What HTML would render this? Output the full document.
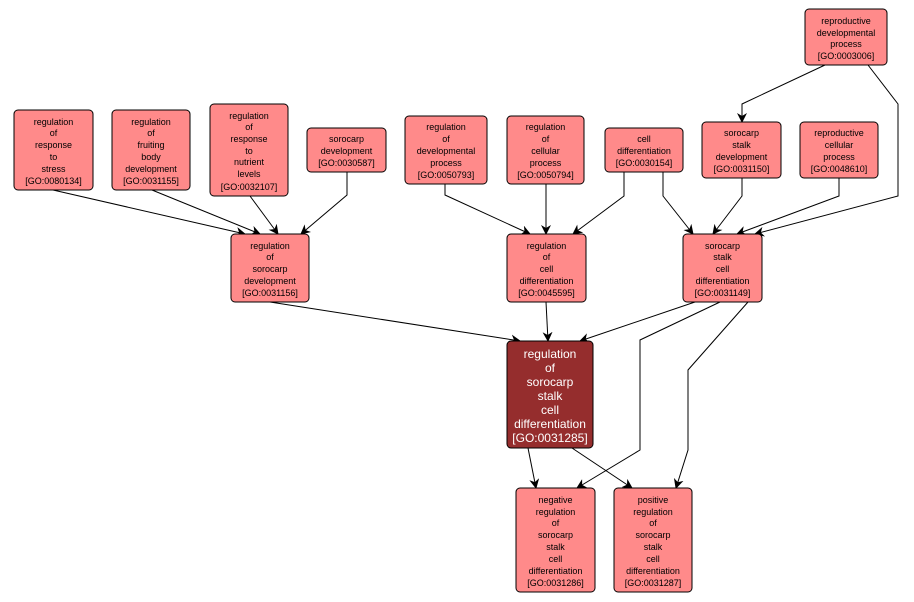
<!DOCTYPE html>
<html><head><meta charset="utf-8"><style>
body{margin:0;background:#fff;width:914px;height:602px;overflow:hidden}
svg{display:block}
text{font-family:"Liberation Sans",sans-serif;font-size:9px;fill:#000;text-anchor:middle}
.n{fill:#ff8a8a;stroke:#000;stroke-width:1}
.e{fill:none;stroke:#000;stroke-width:1}
</style></head><body>
<svg width="914" height="602" viewBox="0 0 914 602">
<defs><marker id="a" markerWidth="10" markerHeight="10" refX="9" refY="5" orient="auto" markerUnits="userSpaceOnUse"><path d="M0,0 L10,5 L0,10 L3,5 z" fill="#000"/></marker></defs>
<g class="e" marker-end="url(#a)">
<path d="M53,190 L245,234"/>
<path d="M152,190 L260,234"/>
<path d="M250,196 L278,234"/>
<path d="M347,172 L347,195 L301,234"/>
<path d="M445,184 L445,195 L530,234"/>
<path d="M546,184 L546,234"/>
<path d="M624,172 L624,196 L573,234"/>
<path d="M663,172 L663,196 L693,234"/>
<path d="M742,178 L742,196 L713,234"/>
<path d="M839,178 L839,196 L737,234"/>
<path d="M868,65 L898,104 L898,196 L755,234"/>
<path d="M825,65 L742,104 L742,122"/>
<path d="M270,302 L520,341"/>
<path d="M546,302 L548,341"/>
<path d="M695,302 L580,341"/>
<path d="M720,302 L640,340 L640,450 L577,488"/>
<path d="M748,302 L688,370 L688,450 L676,488"/>
<path d="M528,448 L536,488"/>
<path d="M572,448 L632,488"/>
</g>
<g>
<rect class="n" x="14" y="110" width="79" height="80" rx="4"/>
<text x="53.5" y="125">regulation</text><text x="53.5" y="136">of</text><text x="53.5" y="148">response</text><text x="53.5" y="160">to</text><text x="53.5" y="172">stress</text><text x="53.5" y="184">[GO:0080134]</text>
<rect class="n" x="112" y="110" width="78" height="80" rx="4"/>
<text x="151" y="125">regulation</text><text x="151" y="136">of</text><text x="151" y="148">fruiting</text><text x="151" y="160">body</text><text x="151" y="172">development</text><text x="151" y="184">[GO:0031155]</text>
<rect class="n" x="210" y="104" width="78" height="92" rx="4"/>
<text x="249" y="119">regulation</text><text x="249" y="130">of</text><text x="249" y="142">response</text><text x="249" y="154">to</text><text x="249" y="165">nutrient</text><text x="249" y="177">levels</text><text x="249" y="190">[GO:0032107]</text>
<rect class="n" x="307" y="128" width="79" height="44" rx="4"/>
<text x="346.5" y="142">sorocarp</text><text x="346.5" y="154">development</text><text x="346.5" y="166">[GO:0030587]</text>
<rect class="n" x="231" y="234" width="78" height="68" rx="4"/>
<text x="270" y="249">regulation</text><text x="270" y="260">of</text><text x="270" y="272">sorocarp</text><text x="270" y="284">development</text><text x="270" y="296">[GO:0031156]</text>
<rect class="n" x="405" y="116" width="82" height="68" rx="4"/>
<text x="446" y="130">regulation</text><text x="446" y="142">of</text><text x="446" y="154">developmental</text><text x="446" y="166">process</text><text x="446" y="178">[GO:0050793]</text>
<rect class="n" x="507" y="116" width="77" height="68" rx="4"/>
<text x="545.5" y="130">regulation</text><text x="545.5" y="142">of</text><text x="545.5" y="154">cellular</text><text x="545.5" y="166">process</text><text x="545.5" y="178">[GO:0050794]</text>
<rect class="n" x="605" y="128" width="78" height="44" rx="4"/>
<text x="644" y="142">cell</text><text x="644" y="154">differentiation</text><text x="644" y="166">[GO:0030154]</text>
<rect class="n" x="507" y="234" width="79" height="68" rx="4"/>
<text x="546.5" y="249">regulation</text><text x="546.5" y="260">of</text><text x="546.5" y="272">cell</text><text x="546.5" y="284">differentiation</text><text x="546.5" y="296">[GO:0045595]</text>
<rect class="n" x="805" y="9" width="82" height="56" rx="4"/>
<text x="846" y="24">reproductive</text><text x="846" y="36">developmental</text><text x="846" y="47">process</text><text x="846" y="59">[GO:0003006]</text>
<rect class="n" x="702" y="122" width="79" height="56" rx="4"/>
<text x="741.5" y="136">sorocarp</text><text x="741.5" y="148">stalk</text><text x="741.5" y="160">development</text><text x="741.5" y="172">[GO:0031150]</text>
<rect class="n" x="800" y="122" width="78" height="56" rx="4"/>
<text x="839" y="136">reproductive</text><text x="839" y="148">cellular</text><text x="839" y="160">process</text><text x="839" y="172">[GO:0048610]</text>
<rect class="n" x="683" y="234" width="79" height="68" rx="4"/>
<text x="722.5" y="249">sorocarp</text><text x="722.5" y="260">stalk</text><text x="722.5" y="272">cell</text><text x="722.5" y="284">differentiation</text><text x="722.5" y="296">[GO:0031149]</text>
<rect x="507" y="341" width="86" height="107" rx="4" fill="#952d2d" stroke="#000"/>
<g><text x="550" y="358" style="font-size:12px;fill:#fff">regulation</text><text x="550" y="372" style="font-size:12px;fill:#fff">of</text><text x="550" y="386" style="font-size:12px;fill:#fff">sorocarp</text><text x="550" y="400" style="font-size:12px;fill:#fff">stalk</text><text x="550" y="414" style="font-size:12px;fill:#fff">cell</text><text x="550" y="428" style="font-size:12px;fill:#fff">differentiation</text><text x="550" y="442" style="font-size:12px;fill:#fff">[GO:0031285]</text></g>
<rect class="n" x="516" y="488" width="79" height="104" rx="4"/>
<text x="555.5" y="503">negative</text><text x="555.5" y="515">regulation</text><text x="555.5" y="526">of</text><text x="555.5" y="538">sorocarp</text><text x="555.5" y="550">stalk</text><text x="555.5" y="562">cell</text><text x="555.5" y="574">differentiation</text><text x="555.5" y="586">[GO:0031286]</text>
<rect class="n" x="614" y="488" width="78" height="104" rx="4"/>
<text x="653" y="503">positive</text><text x="653" y="515">regulation</text><text x="653" y="526">of</text><text x="653" y="538">sorocarp</text><text x="653" y="550">stalk</text><text x="653" y="562">cell</text><text x="653" y="574">differentiation</text><text x="653" y="586">[GO:0031287]</text>
</g>
</svg>
</body></html>
